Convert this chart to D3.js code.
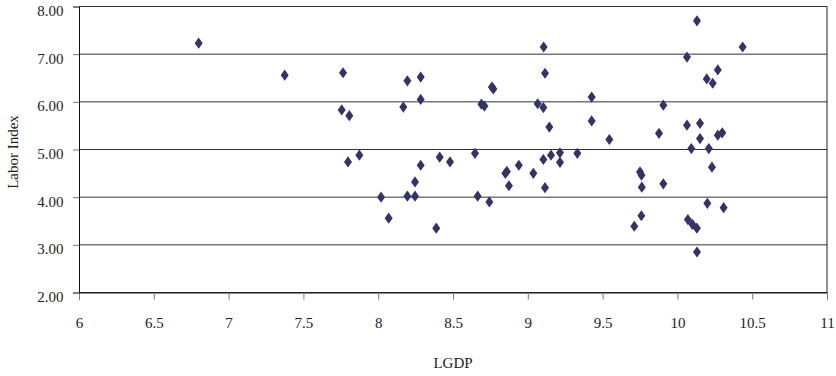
<!DOCTYPE html>
<html lang="en">
<head>
  <meta charset="utf-8">
  <title>Labor Index vs LGDP</title>
  <script src="https://cdn.jsdelivr.net/npm/d3@7/dist/d3.min.js"></script>
  <style>
    * { margin: 0; padding: 0; }
    body { background: #fff; overflow: hidden; }
    svg { display: block; font-family: "Liberation Serif", "Times New Roman", serif; }
    .tick text { fill: #222; font-size: 15px; font-family: "Liberation Serif", "Times New Roman", serif; }
  </style>
</head>
<body>
  <svg id="chart" width="836" height="376"></svg>

  <script>
    // values
    const lgdp = [
      6.80, 7.375, 7.765, 8.195, 8.284, 8.284, 8.168, 7.756, 7.807, 7.798,
      7.874, 8.284, 8.411, 8.48, 8.246, 8.019, 8.195, 8.246, 8.07, 8.388,
      8.647, 8.665, 8.743, 8.69, 8.71, 8.76, 8.77, 8.86, 8.85, 8.874,
      8.94, 9.037, 9.066, 9.104, 9.106, 9.115, 9.144, 9.104, 9.155, 9.215,
      9.215, 9.115, 9.331, 9.427, 9.427, 9.545, 9.75, 9.76, 9.762, 9.759,
      9.712, 10.131, 10.436, 10.064, 10.27, 10.196, 10.236, 9.906, 9.877, 10.064,
      10.151, 10.151, 10.27, 10.30, 10.093, 10.21, 10.231, 9.906, 10.2, 10.309,
      10.07, 10.10, 10.13, 10.131
    ]
    const labor = [
      7.23, 6.56, 6.61, 6.44, 6.52, 6.05, 5.89, 5.83, 5.71, 4.74,
      4.88, 4.67, 4.84, 4.74, 4.32, 4.00, 4.02, 4.02, 3.56, 3.35,
      4.92, 4.02, 3.90, 5.95, 5.91, 6.31, 6.27, 4.54, 4.50, 4.24,
      4.67, 4.50, 5.96, 5.88, 7.15, 6.60, 5.47, 4.79, 4.88, 4.93,
      4.73, 4.20, 4.92, 6.10, 5.60, 5.21, 4.53, 4.46, 4.21, 3.61,
      3.39, 7.70, 7.15, 6.94, 6.67, 6.48, 6.39, 5.93, 5.34, 5.51,
      5.55, 5.23, 5.30, 5.35, 5.02, 5.02, 4.63, 4.28, 3.87, 3.78,
      3.53, 3.43, 3.35, 2.85
    ]
    const xTicks = [6, 6.5, 7, 7.5, 8, 8.5, 9, 9.5, 10, 10.5, 11]
    const yTicks = [2, 3, 4, 5, 6, 7, 8]

    const points = lgdp.map((v, i) => ({ x: v, y: labor[i] }))

    const svg = d3.select('#chart')
    const plotLeft = 79, plotRight = 827, plotTop = 6.5, plotBottom = 292.5

    const x = d3.scaleLinear().domain([6, 11]).range([plotLeft, plotRight])
    const y = d3.scaleLinear().domain([2, 8]).range([plotBottom, plotTop])

    // horizontal grid
    svg.append('g')
      .selectAll('line')
      .data(yTicks)
      .join('line')
      .attr('x1', plotLeft).attr('x2', plotRight)
      .attr('y1', d => y(d)).attr('y2', d => y(d))
      .attr('stroke', '#333')
      .attr('stroke-width', 1)

    // right border
    svg.append('line')
      .attr('x1', plotRight).attr('x2', plotRight)
      .attr('y1', plotTop).attr('y2', plotBottom)
      .attr('stroke', '#222')

    const xAxis = svg.append('g')
      .attr('transform', 'translate(0,' + plotBottom + ')')
      .call(d3.axisBottom(x).tickValues(xTicks).tickSize(7).tickPadding(0).tickFormat(d3.format('')))
    xAxis.select('.domain').attr('stroke', '#111')
    xAxis.selectAll('.tick line').attr('stroke', '#777')
    xAxis.selectAll('.tick text').attr('y', 0).attr('dy', '35.5px')

    const yAxis = svg.append('g')
      .attr('transform', 'translate(' + plotLeft + ',0)')
      .call(d3.axisLeft(y).tickValues(yTicks).tickSize(6).tickFormat(d3.format('.2f')))
    yAxis.select('.domain').attr('stroke', '#111')
    yAxis.selectAll('.tick line').attr('stroke', '#777')
    yAxis.selectAll('.tick text').attr('x', -15.5).attr('dy', '9px')

    // diamonds
    svg.append('g')
      .selectAll('path')
      .data(points)
      .join('path')
      .attr('d', 'M0,-5.6L4,0L0,5.6L-4,0Z')
      .attr('fill', '#333366')
      .attr('transform', d => 'translate(' + x(d.x) + ',' + y(d.y) + ')')

    svg.append('text')
      .attr('x', (plotLeft + plotRight) / 2)
      .attr('y', 368)
      .attr('text-anchor', 'middle')
      .attr('font-size', 15)
      .attr('fill', '#222')
      .text('LGDP')

    svg.append('text')
      .attr('transform', 'translate(18,152) rotate(-90)')
      .attr('text-anchor', 'middle')
      .attr('font-size', 15)
      .attr('fill', '#222')
      .text('Labor Index')
  </script>
</body>
</html>
